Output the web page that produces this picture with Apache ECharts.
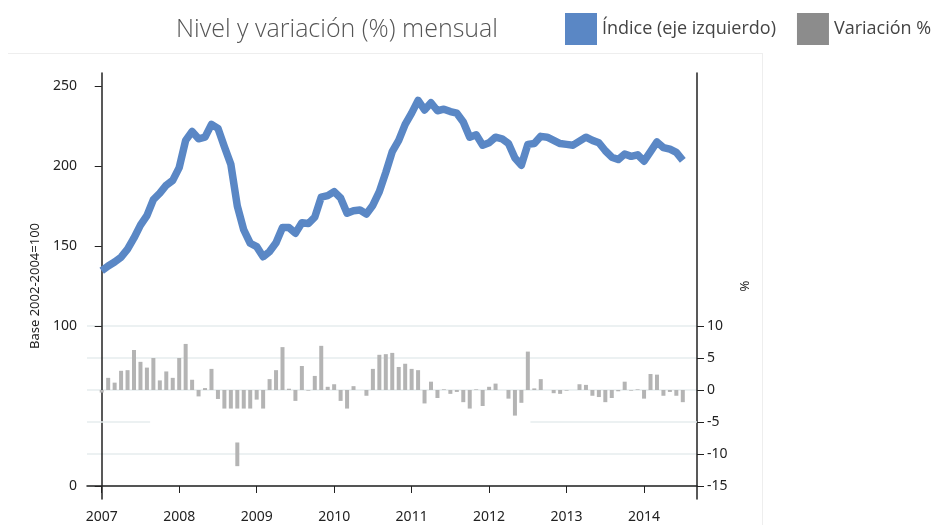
<!DOCTYPE html>
<html>
<head>
<meta charset="utf-8">
<script src="https://cdn.jsdelivr.net/npm/echarts@6/dist/echarts.min.js"></script>
<style>
  html, body { margin: 0; padding: 0; background: #fff; }
  #chart { width: 939px; height: 525px; }
</style>
</head>
<body>
<div id="chart"></div>
<script>
    // Meses: enero 2007 (0) hasta julio 2014 (90)
    const startYear = 2007;
    const yearTicks = [0, 12, 24, 36, 48, 60, 72, 84];

    // Índice, base 2002-2004=100 (eje izquierdo)
    const indice = [
        134.5, 137.5, 140, 143, 148, 155, 163, 169, 179, 183, 188, 191,
        199, 216, 221.5, 217, 218, 226, 223.5, 212, 201, 175, 160, 151.7,
        149.6, 143.3, 146.5, 152, 161.5, 161.5, 158, 164.5, 164, 168, 180.5, 181.5,
        184, 180, 170.5, 172, 172.5, 170, 175.5, 184, 196, 209, 216, 226,
        233, 241, 235, 239.5, 234.5, 235.5, 234, 233, 227.5, 218, 219.5, 213,
        214.5, 218, 217, 214, 205, 200.5, 213.5, 214, 218.5, 218, 216, 214,
        213.5, 213, 215.5, 218, 216, 214.5, 209.5, 205.5, 204, 207.5, 206, 207,
        203, 209, 215, 211.5, 210.5, 208.5, 203.5
    ];

    // Variación % mensual (eje derecho), tal como se ve dibujada
    const variacion = [
        -0.4, 1.9, 1.15, 3.0, 3.1, 6.25, 4.4, 3.5, 5.0, 1.5, 2.9, 1.9,
        5.0, 7.2, 1.6, -1.0, 0.3, 3.3, -1.4, -2.9, -2.9, -2.9, -2.9, -2.9,
        -1.5, -2.9, 1.7, 3.1, 6.7, 0.2, -1.7, 3.75, -0.1, 2.2, 6.9, 0.5,
        0.9, -1.7, -2.9, 0.6, 0, -0.9, 3.3, 5.5, 5.6, 5.8, 3.6, 4.1,
        3.3, 3.1, -2.1, 1.3, -1.25, 0.1, -0.6, -0.3, -1.9, -2.9, 0.1, -2.5,
        0.5, 1.0, 0, -1.35, -4.0, -2.0, 6.0, 0.25, 1.7, 0, -0.5, -0.6,
        -0.1, 0, 0.9, 0.8, -0.9, -1.1, -1.9, -1.25, -0.2, 1.3, -0.1, 0.1,
        -1.35, 2.5, 2.4, -0.9, -0.3, -0.9, -1.9
    ];

    // tramo suelto de la barra de octubre 2008
    const outlierIdx = 21;
    const outlierTop = -8.2;
    const outlierBottom = -11.9;

    const rightTicks = [-15, -10, -5, 0, 5, 10];
    const leftTicks = [0, 100, 150, 200, 250];

    const lineColor = '#5a87c5';
    const barColor = '#b4b4b4';
    const axisColor = '#222';
    const gridColor = '#e6ecee';
    const labelFont = 'Noto Sans';

    const xMin = -2.28;
    const xMax = 92.2;

    const indiceData = indice.map((v, i) => [i, v]);
    const varData = variacion.map((v, i) => [i, v]);
    const outlierData = [[outlierIdx, outlierTop], [outlierIdx, outlierBottom]];

    // la línea de -5 sólo aparece a tramos: se oculta en splitLine y se dibuja con markLine
    const splitColors = rightTicks.map(t => t === -5 ? 'rgba(0,0,0,0)' : gridColor);
    const partialGrid = [
        [{ coord: [xMin, -5] }, { coord: [7.5, -5] }],
        [{ coord: [66.4, -5] }, { coord: [xMax, -5] }]
    ];

    const chart = echarts.init(document.getElementById('chart'));

    const option = {
        animation: false,
        textStyle: { fontFamily: labelFont },
        title: {
            text: 'Nivel y variación (%) mensual',
            left: 176,
            top: 17,
            padding: 0,
            textStyle: {
                fontFamily: 'Open Sans',
                fontSize: 25,
                fontWeight: 300,
                color: '#555'
            }
        },
        legend: {
            left: 565,
            top: 13,
            padding: 0,
            itemWidth: 32,
            itemHeight: 32,
            itemGap: 21,
            textStyle: { fontFamily: 'Open Sans', fontSize: 18, color: '#444' },
            data: [
                { name: 'Índice (eje izquierdo)', icon: 'rect', itemStyle: { color: lineColor } },
                { name: 'Variación %', icon: 'rect', itemStyle: { color: '#8c8c8c' } }
            ]
        },
        graphic: [
            { type: 'line', shape: { x1: 8, y1: 53.5, x2: 762, y2: 53.5 }, style: { stroke: '#eeeeee', lineWidth: 1 }, silent: true },
            { type: 'line', shape: { x1: 762.5, y1: 53, x2: 762.5, y2: 525 }, style: { stroke: '#eeeeee', lineWidth: 1 }, silent: true }
        ],
        grid: { left: 87, right: 242, top: 73, bottom: 26 },
        xAxis: {
            type: 'value',
            min: xMin,
            max: xMax,
            splitLine: { show: false },
            axisLine: { lineStyle: { color: axisColor, width: 1.5 } },
            axisTick: { show: true, customValues: yearTicks, length: 7, lineStyle: { color: axisColor } },
            axisLabel: {
                customValues: yearTicks,
                formatter: v => String(startYear + Math.round(v / 12)),
                color: axisColor,
                fontSize: 14,
                margin: 11
            }
        },
        yAxis: [
            {
                type: 'value',
                min: -8.125,
                max: 258.1,
                name: 'Base 2002-2004=100',
                nameLocation: 'middle',
                nameGap: 43,
                nameTextStyle: { color: axisColor, fontSize: 13 },
                splitLine: { show: false },
                axisLine: { show: true, lineStyle: { color: axisColor, width: 1.5 } },
                axisTick: { show: true, customValues: leftTicks, length: 7, lineStyle: { color: axisColor } },
                axisLabel: { customValues: leftTicks, color: axisColor, fontSize: 14, margin: 10 }
            },
            {
                type: 'value',
                position: 'right',
                min: -17.03,
                max: 49.53,
                name: '%',
                nameLocation: 'middle',
                nameGap: 40,
                nameTextStyle: { color: axisColor, fontSize: 13 },
                splitLine: {
                    show: true,
                    lineStyle: { color: splitColors, width: 1.5 }
                },
                axisLine: { show: true, lineStyle: { color: axisColor, width: 1.5 } },
                axisTick: { show: true, customValues: rightTicks, length: 7, lineStyle: { color: axisColor } },
                axisLabel: { customValues: rightTicks, color: axisColor, fontSize: 14, margin: 10 }
            }
        ],
        series: [
            {
                name: 'Variación %',
                type: 'bar',
                yAxisIndex: 1,
                barWidth: 4,
                z: 2,
                itemStyle: { color: barColor },
                data: varData,
                markLine: {
                    silent: true,
                    symbol: 'none',
                    label: { show: false },
                    lineStyle: { color: gridColor, type: 'solid', width: 1.5 },
                    data: partialGrid
                }
            },
            {
                name: 'tramo',
                type: 'line',
                yAxisIndex: 1,
                z: 2,
                showSymbol: false,
                lineStyle: { color: barColor, width: 4, cap: 'butt' },
                data: outlierData
            },
            {
                name: 'Índice (eje izquierdo)',
                type: 'line',
                yAxisIndex: 0,
                z: 3,
                showSymbol: false,
                lineStyle: { color: lineColor, width: 7.5, join: 'round' },
                itemStyle: { color: lineColor },
                data: indiceData
            }
        ]
    };

    chart.setOption(option);
</script>
</body>
</html>
